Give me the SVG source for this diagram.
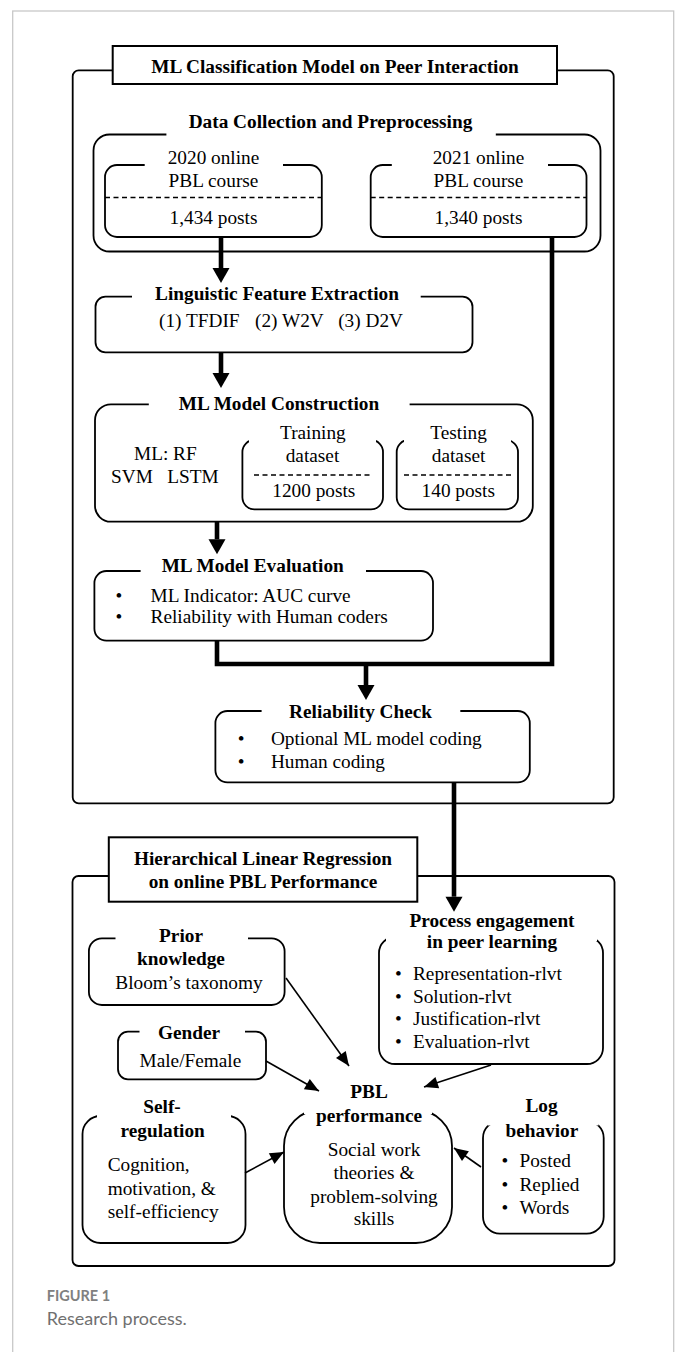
<svg xmlns="http://www.w3.org/2000/svg" width="677" height="1352" viewBox="0 0 677 1352">
<defs>
<style>
text{font-family:"Liberation Serif","Times New Roman",serif;font-size:19.3px;fill:#000}
.b{font-weight:bold}
.c{text-anchor:middle}
.box{fill:none;stroke:#000;stroke-width:1.8}
.ttl{fill:#fff;stroke:#000;stroke-width:2}
.outer{fill:none;stroke:#000;stroke-width:1.8}
.gap{fill:#fff;stroke:none}
.dash{stroke:#000;stroke-width:1.3;stroke-dasharray:5 3.5;fill:none}
.thick{stroke:#000;stroke-width:4.6;fill:none}
.thin{stroke:#000;stroke-width:1.6;fill:none}
.cap1{font-family:Lato,"Open Sans",sans-serif;font-weight:bold;font-size:14.5px;fill:#808080}
.cap2{font-family:Lato,"Open Sans",sans-serif;font-size:18px;fill:#707070}
</style>
<marker id="ahT" markerUnits="userSpaceOnUse" markerWidth="16" markerHeight="17" refX="0" refY="8.5" orient="auto" overflow="visible"><path d="M0,0 L15,8.5 L0,17 Z" fill="#000"/></marker>
<marker id="aht" markerUnits="userSpaceOnUse" markerWidth="15" markerHeight="12" refX="14" refY="6" orient="auto" overflow="visible"><path d="M0,0 L14,6 L0,12 Z" fill="#000"/></marker>
</defs>
<rect x="0" y="0" width="677" height="1352" fill="#fff"/>
<rect x="12.7" y="11" width="661" height="1400" fill="none" stroke="#c8c8c8" stroke-width="1.3"/>

<g id="section-ml">
<rect class="outer" x="72.7" y="70.3" width="541" height="733" rx="6"/>
<rect class="ttl" x="112.7" y="46" width="444.3" height="38"/>
<text class="b c" x="335" y="72.5">ML Classification Model on Peer Interaction</text>
</g>

<g id="data-collection">
<rect class="box" x="93.5" y="134.5" width="507" height="117" rx="16"/>
<rect class="gap" x="166.4" y="130" width="329.4" height="9"/>
<text class="b c" x="330.5" y="128.3">Data Collection and Preprocessing</text>
</g>

<g id="course-2020">
<rect class="box" x="105" y="165" width="216.8" height="72" rx="12"/>
<rect class="gap" x="144.7" y="160" width="138.3" height="9"/>
<text class="c" x="213.5" y="164">2020 online</text>
<text class="c" x="213.5" y="187">PBL course</text>
<line class="dash" x1="105" y1="197.5" x2="321.8" y2="197.5"/>
<text class="c" x="213.5" y="224.3">1,434 posts</text>
</g>

<g id="course-2021">
<rect class="box" x="370.7" y="165" width="215.8" height="72" rx="12"/>
<rect class="gap" x="391.8" y="160" width="156.2" height="9"/>
<text class="c" x="478.5" y="164">2021 online</text>
<text class="c" x="478.5" y="187">PBL course</text>
<line class="dash" x1="370.7" y1="197.5" x2="586.5" y2="197.5"/>
<text class="c" x="478.5" y="224.3">1,340 posts</text>
</g>

<g id="feature-extraction">
<rect class="box" x="95.5" y="296.7" width="377" height="55.6" rx="10"/>
<rect class="gap" x="132" y="291" width="288.7" height="11"/>
<text class="b c" x="277" y="300">Linguistic Feature Extraction</text>
<text x="159" y="327.3">(1) TFDIF</text>
<text x="255" y="327.3">(2) W2V</text>
<text x="338.2" y="327.3">(3) D2V</text>
</g>

<g id="model-construction">
<rect class="box" x="95" y="404.3" width="437.8" height="117.4" rx="16"/>
<rect class="gap" x="148.8" y="399" width="260.8" height="10"/>
<text class="b c" x="279" y="410">ML Model Construction</text>
<text x="134" y="460">ML: RF</text>
<text x="111" y="483.3">SVM</text>
<text x="167.3" y="483.3">LSTM</text>
</g>

<g id="training-dataset">
<rect class="box" x="242.4" y="440" width="140.6" height="69.3" rx="12"/>
<rect class="gap" x="249" y="435" width="127" height="8"/>
<text class="c" x="312.9" y="439.3">Training</text>
<text class="c" x="312.5" y="461.7">dataset</text>
<line class="dash" x1="254" y1="475" x2="370.8" y2="475"/>
<text class="c" x="313.8" y="496.7">1200 posts</text>
</g>

<g id="testing-dataset">
<rect class="box" x="396.7" y="440" width="121.3" height="69.3" rx="12"/>
<rect class="gap" x="404" y="435" width="107" height="8"/>
<text class="c" x="458.6" y="438.5">Testing</text>
<text class="c" x="458.6" y="461.7">dataset</text>
<line class="dash" x1="404" y1="475" x2="511" y2="475"/>
<text class="c" x="458.3" y="496.7">140 posts</text>
</g>

<g id="model-evaluation">
<rect class="box" x="94.4" y="571" width="338.6" height="69.7" rx="12"/>
<rect class="gap" x="140.6" y="565" width="225.4" height="10"/>
<text class="b c" x="252.7" y="571.7">ML Model Evaluation</text>
<text x="115.5" y="601.7">•</text>
<text x="150.6" y="601.7">ML Indicator: AUC curve</text>
<text x="115.5" y="623.3">•</text>
<text x="150.6" y="623.3">Reliability with Human coders</text>
</g>

<g id="reliability-check">
<rect class="box" x="215.4" y="711" width="314.4" height="71.3" rx="12"/>
<rect class="gap" x="261.6" y="705" width="198.7" height="10"/>
<text class="b c" x="360.6" y="718.3">Reliability Check</text>
<text x="237.8" y="745">•</text>
<text x="270.9" y="745">Optional ML model coding</text>
<text x="237.8" y="768.3">•</text>
<text x="270.9" y="768.3">Human coding</text>
</g>

<g id="section-hlr">
<rect class="outer" x="72.5" y="876" width="542" height="390" rx="6"/>
<rect class="ttl" x="108.8" y="837.3" width="308.5" height="64.4"/>
<text class="b c" x="263" y="865">Hierarchical Linear Regression</text>
<text class="b c" x="263" y="888">on online PBL Performance</text>
</g>

<g id="prior-knowledge">
<rect class="box" x="88.9" y="938.3" width="195.7" height="66.7" rx="13"/>
<rect class="gap" x="115.5" y="932" width="132.5" height="10"/>
<text class="b c" x="181" y="941.5">Prior</text>
<text class="b c" x="181" y="965">knowledge</text>
<text class="c" x="189" y="989">Bloom’s taxonomy</text>
</g>

<g id="gender">
<rect class="box" x="118" y="1031.7" width="148" height="47.6" rx="10"/>
<rect class="gap" x="139.5" y="1026" width="105.5" height="10"/>
<text class="b c" x="189" y="1039">Gender</text>
<text class="c" x="190.4" y="1067.3">Male/Female</text>
</g>

<g id="process-engagement">
<rect class="box" x="379" y="937" width="224" height="127" rx="16"/>
<rect class="gap" x="386" y="930" width="211" height="11"/>
<text class="b c" x="492" y="926.7">Process engagement</text>
<text class="b c" x="492" y="948">in peer learning</text>
<text x="395" y="980">•</text><text x="413" y="980">Representation-rlvt</text>
<text x="395" y="1002.7">•</text><text x="413" y="1002.7">Solution-rlvt</text>
<text x="395" y="1025">•</text><text x="413" y="1025">Justification-rlvt</text>
<text x="395" y="1048.3">•</text><text x="413" y="1048.3">Evaluation-rlvt</text>
</g>

<g id="self-regulation">
<rect class="box" x="82.5" y="1116" width="163" height="127" rx="18"/>
<rect class="gap" x="97" y="1109" width="134" height="10.5"/>
<text class="b c" x="162" y="1113.3">Self-</text>
<text class="b c" x="162.7" y="1136.7">regulation</text>
<text x="107.7" y="1171">Cognition,</text>
<text x="107.7" y="1195">motivation, &amp;</text>
<text x="107.7" y="1218">self-efficiency</text>
</g>

<g id="pbl-performance">
<rect class="box" x="284" y="1110" width="168" height="133" rx="36"/>
<rect class="gap" x="304" y="1100" width="128" height="14"/>
<text class="b c" x="369" y="1098.3">PBL</text>
<text class="b c" x="369" y="1121.7">performance</text>
<text class="c" x="374" y="1155.7">Social work</text>
<text class="c" x="374" y="1179">theories &amp;</text>
<text class="c" x="374" y="1202.5">problem-solving</text>
<text class="c" x="374" y="1225">skills</text>
</g>

<g id="log-behavior">
<rect class="box" x="483" y="1121" width="120.7" height="112.7" rx="17"/>
<rect class="gap" x="487.5" y="1114" width="111" height="11.5"/>
<text class="b c" x="541.5" y="1111.7">Log</text>
<text class="b c" x="541.9" y="1136.7">behavior</text>
<text x="501.5" y="1167">•</text><text x="519.5" y="1167">Posted</text>
<text x="501.5" y="1191.3">•</text><text x="519.5" y="1191.3">Replied</text>
<text x="501.5" y="1213.7">•</text><text x="519.5" y="1213.7">Words</text>
</g>

<g id="connectors">
<line class="thick" x1="221" y1="237" x2="221" y2="268" marker-end="url(#ahT)"/>
<line class="thick" x1="221" y1="352.3" x2="221" y2="373" marker-end="url(#ahT)"/>
<line class="thick" x1="217" y1="521.7" x2="217" y2="539.3" marker-end="url(#ahT)"/>
<path class="thick" d="M217,640.7 V664 H552 V237"/>
<line class="thick" x1="366" y1="664" x2="366" y2="685" marker-end="url(#ahT)"/>
<line class="thick" x1="454" y1="782.3" x2="454" y2="896.7" marker-end="url(#ahT)"/>
<line class="thin" x1="286" y1="978" x2="349" y2="1066" marker-end="url(#aht)"/>
<line class="thin" x1="266" y1="1061" x2="319" y2="1091" marker-end="url(#aht)"/>
<line class="thin" x1="491" y1="1065" x2="424" y2="1087" marker-end="url(#aht)"/>
<line class="thin" x1="245" y1="1173" x2="284" y2="1152" marker-end="url(#aht)"/>
<line class="thin" x1="481" y1="1167" x2="454" y2="1148" marker-end="url(#aht)"/>
</g>

<g id="caption">
<text class="cap1" x="46.7" y="1301">FIGURE 1</text>
<text class="cap2" x="46.7" y="1325">Research process.</text>
</g>
</svg>
